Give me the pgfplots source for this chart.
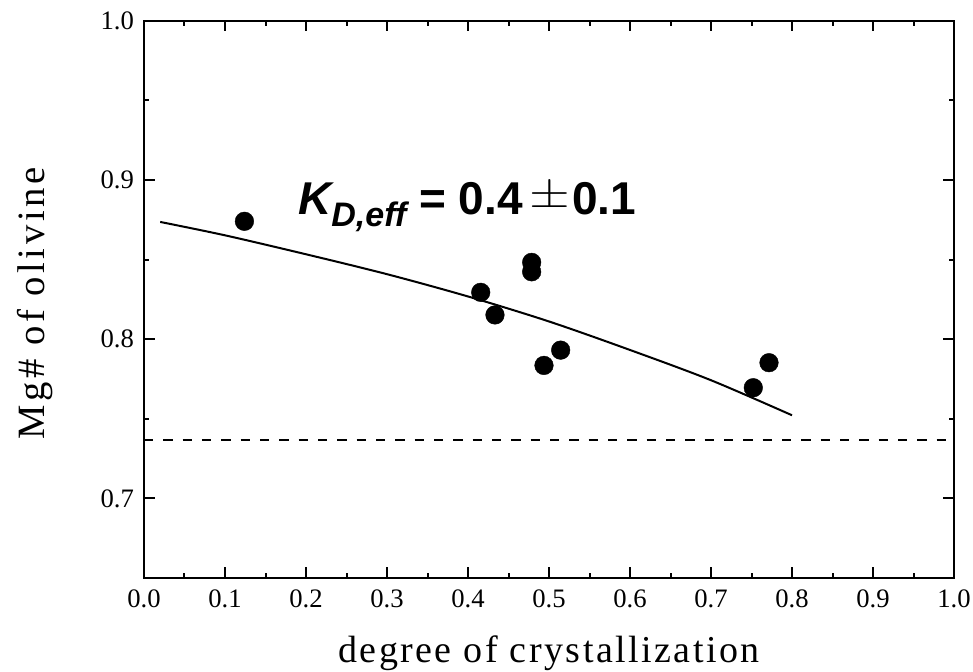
\documentclass[border=0pt]{standalone}
\usepackage{pgfplots}
\pgfplotsset{compat=1.18}
\usepackage{fontspec}
\setmainfont{Liberation Serif}
\newfontfamily\arialfont{Liberation Sans}
\newfontfamily\labelfont[LetterSpace=6.5]{Liberation Serif}
\newfontfamily\ylabelfont[LetterSpace=9.5]{Liberation Serif}
\begin{document}
\begin{tikzpicture}
\begin{axis}[
  scale only axis, width=607.5pt, height=418pt,
  xmin=0, xmax=1, ymin=0.65, ymax=1.0,
  xtick={0,0.1,0.2,0.3,0.4,0.5,0.6,0.7,0.8,0.9,1.0},
  ytick={0.7,0.8,0.9,1.0},
  minor x tick num=1, minor y tick num=1,
  tick pos=both, tick align=inside,
  major tick length=8pt, minor tick length=4pt,
  axis line style={line width=1.5pt},
  every tick/.style={line width=1.5pt, black},
  /pgf/number format/fixed,
  /pgf/number format/fixed zerofill,
  /pgf/number format/precision=1,
  /pgf/number format/assume math mode=true,
  xticklabel style={font=\fontsize{20}{24}\selectfont, yshift=-5pt},
  yticklabel style={font=\fontsize{20}{24}\selectfont, xshift=-4pt},
  xlabel={degree of crystallization},
  ylabel={Mg\# of olivine},
  xlabel style={at={(axis description cs:0.5,-0.1525)}, anchor=base, font=\labelfont\fontsize{28.5}{32}\selectfont},
  ylabel style={at={(axis description cs:-0.135,0.493)}, anchor=center, font=\ylabelfont\fontsize{29}{32}\selectfont},
]
\addplot[black, line width=1.5pt, dash pattern=on 7pt off 7.5pt] coordinates {(0,0.7366) (1,0.7366)};
\addplot[black, line width=1.5pt, smooth] coordinates {
(0.02,0.8736) (0.1,0.8652) (0.2,0.8533) (0.3,0.8408) (0.4,0.8268)
(0.5,0.8111) (0.6,0.7932) (0.7,0.7742) (0.8,0.7522)};
\addplot[only marks, mark=*, mark size=7pt, mark options={fill=black, draw=black, line width=0.3pt}] coordinates {
(0.124,0.874)
(0.4157,0.8294)
(0.4333,0.8152)
(0.4786,0.8482)
(0.4786,0.8423)
(0.4938,0.7835)
(0.5144,0.7931)
(0.7522,0.7695)
(0.7716,0.7852)};
\node[anchor=base west, inner sep=0pt] at (axis cs:0.190,0.8784)
{\arialfont\bfseries\fontsize{34.5}{40}\selectfont\itshape K\raisebox{-9pt}{\fontsize{25.5}{30}\selectfont D,eff}\upshape\ =\ 0.4\hspace{5pt}\raisebox{4.9pt}{\resizebox*{30.5pt}{21pt}{$\pm$}}\hspace{1.6pt}0.1};
\end{axis}
\pgfresetboundingbox
\path (-108pt,-69.75pt) rectangle (621.75pt,433.5pt);
\end{tikzpicture}
\end{document}
